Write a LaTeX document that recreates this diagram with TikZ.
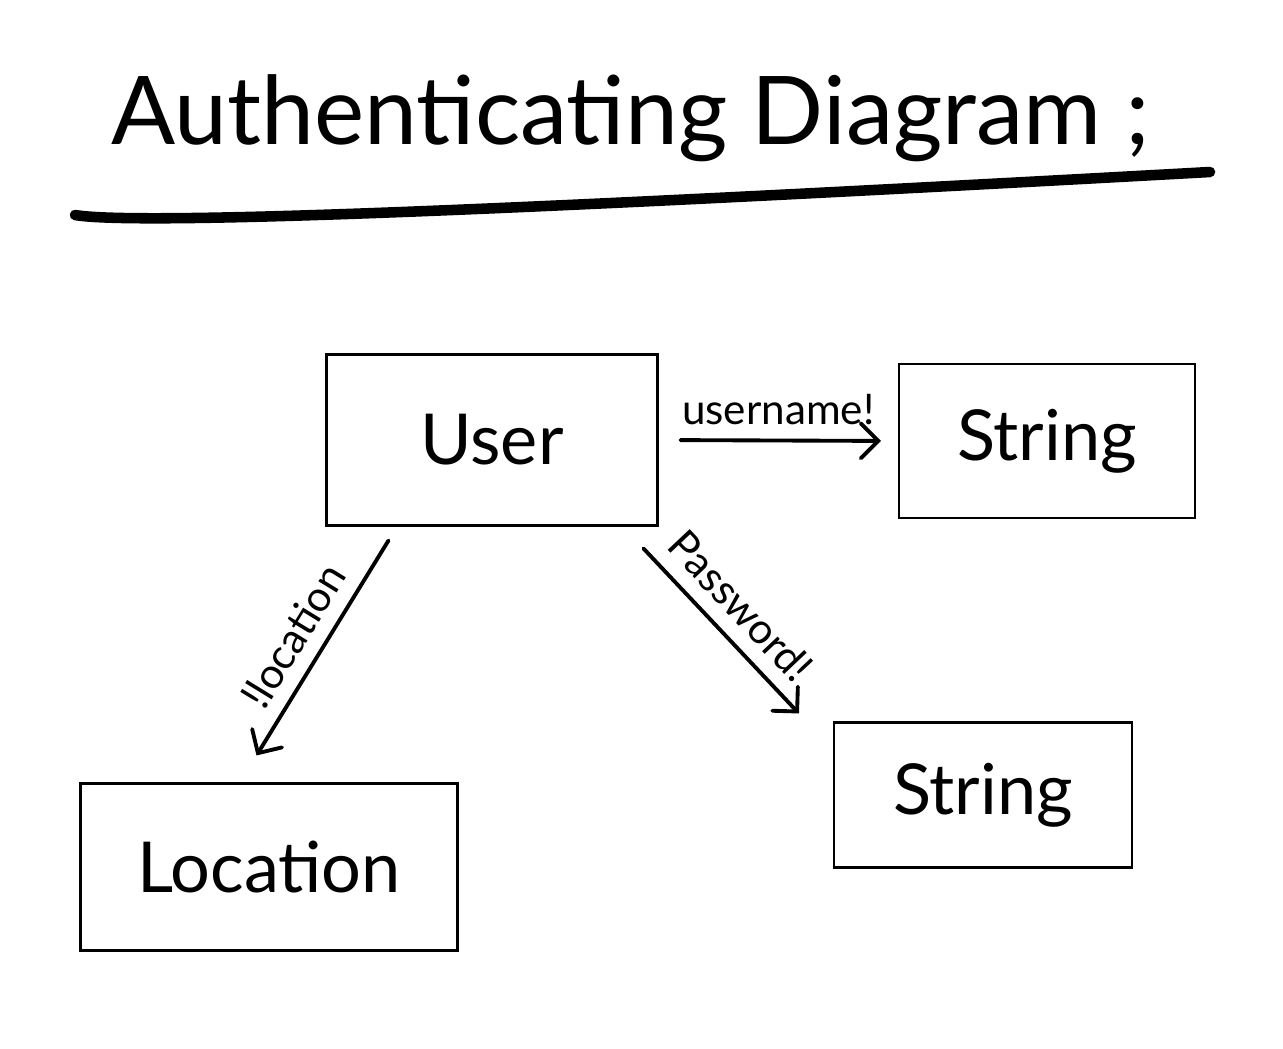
\documentclass[tikz,border=0pt]{standalone}
\usepackage{fontspec}
\setmainfont{Lato}
\usetikzlibrary{calc}
\usetikzlibrary{positioning}
\usetikzlibrary{arrows.meta}

\tikzset{
  box/.style={draw,line width=1.2pt,inner sep=0pt,font=\fontsize{40}{46}\selectfont},
  link/.style={line width=2.2pt,line cap=round,-{Straight Barb[length=3.5mm,width=7mm,line cap=round]}},
  note/.style={font=\fontsize{24}{28}\selectfont,inner sep=8pt}
}

\begin{document}
\begin{tikzpicture}[x=0.02cm,y=-0.02cm]
        \useasboundingbox (0,0) rectangle (1283,1048);

        % title and underline
        \node[anchor=west,font=\fontsize{54}{62}\selectfont] (title) at (105,118) {Authenticating Diagram ;};
        \draw[line width=6pt,line cap=round] (75,215) .. controls (150,228) and (700,200) .. (1210,172);

        % boxes
        \node[box,minimum width=6.62cm,minimum height=3.42cm] (user) at (492,440) {User};
        \node[box,minimum width=5.92cm,minimum height=3.08cm] (strA) at (1047,441) {String};
        \node[box,minimum width=7.54cm,minimum height=3.34cm] (loc) at (269,867) {Location};
        \node[box,minimum width=5.96cm,minimum height=2.90cm] (strB) at (983,795) {String};

        % ends of the slanted arrows
        \coordinate (locA) at ($(user.south west)+(63,14)$);
        \coordinate (locB) at ($(loc.north west)+(177,-27)$);
        \coordinate (pwA) at ($(user.south east)+(-15,22)$);
        \coordinate (pwB) at ($(strB.north west)+(-34,-8)$);

        \draw[link,shorten <=0.44cm,shorten >=0.34cm] (user.east) -- node[note,above] {username!} (strA.west);
        \draw[link] (locA) -- node[note,sloped,above,pos=0.52] {!location} (locB);
        \draw[link] (pwA) -- node[note,sloped,above,pos=0.48] {Password!} (pwB);
\end{tikzpicture}
\end{document}
